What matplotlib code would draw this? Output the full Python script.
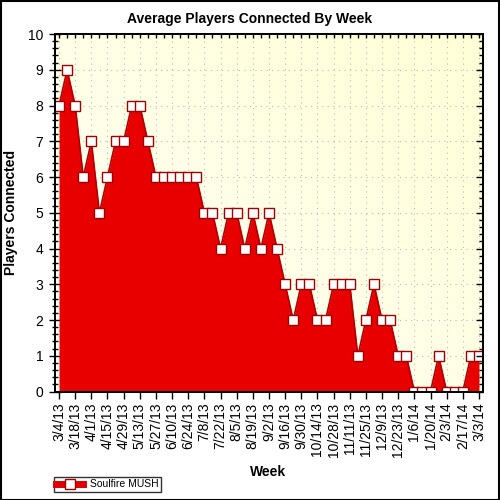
import matplotlib
matplotlib.use("Agg")
import matplotlib.pyplot as plt
import numpy as np
import datetime as dt
from matplotlib.ticker import MultipleLocator
from matplotlib.patches import Rectangle

plt.rcParams['font.family'] = ['Liberation Sans', 'DejaVu Sans']

# ---- data ----
start_date = dt.date(2013, 3, 4)
players = [8, 9, 8, 6, 7, 5, 6, 7, 7, 8,
           8, 7, 6, 6, 6, 6, 6, 6, 5, 5,
           4, 5, 5, 4, 5, 4, 5, 4, 3, 2,
           3, 3, 2, 2, 3, 3, 3, 1, 2, 3,
           2, 2, 1, 1, 0, 0, 0, 1, 0, 0,
           0, 1, 1]
weeks = [start_date + dt.timedelta(weeks=i) for i in range(len(players))]
week_labels = [f"{d.month}/{d.day}/{d.year % 100}" for d in weeks]
series_name = "Soulfire MUSH"

x = np.arange(len(players))

fig = plt.figure(figsize=(5, 5), dpi=100)
fig.patch.set_facecolor('white')
fig.add_artist(Rectangle((0.001, 0.001), 0.997, 0.997, transform=fig.transFigure,
                         fill=False, edgecolor='black', linewidth=1.5))

ax = fig.add_axes([0.11, 0.217, 0.856, 0.715])
ax.set_xlim(-0.5, len(players) - 0.5)
ax.set_ylim(0, 10)

# gradient background
grad = np.zeros((50, 50, 3))
gx, gy = np.meshgrid(np.linspace(0, 1, 50), np.linspace(0, 1, 50))
t = (gx + gy) / 2.0
c0 = np.array([1.0, 1.0, 0.97])
c1 = np.array([1.0, 1.0, 0.84])
for k in range(3):
    grad[:, :, k] = c0[k] + (c1[k] - c0[k]) * t
ax.imshow(grad, extent=[-0.5, len(players) - 0.5, 0, 10], origin='lower',
          aspect='auto', zorder=0, interpolation='bilinear')

# grid
for gxv in x[::2]:
    ax.axvline(gxv, color='#bbbbbb', linestyle=(0, (1, 4)), linewidth=0.8, zorder=1)
for gyv in range(1, 10):
    ax.axhline(gyv, color='#bbbbbb', linestyle=(0, (1, 4)), linewidth=0.8, zorder=1)

ax.fill_between(x, 0, players, color='#e80000', zorder=2, linewidth=0)
ax.plot(x, players, color='#b00000', linewidth=1.2, zorder=3,
        marker='s', markersize=7, markerfacecolor='white',
        markeredgecolor='#a00000', markeredgewidth=1.0, label=series_name)

# ticks
ax.set_xticks(x[::2])
ax.set_xticklabels(week_labels[::2], rotation=90, fontsize=10)
ax.tick_params(axis='x', direction='out', length=5, width=1, pad=3)
ax.yaxis.set_major_locator(MultipleLocator(1))
ax.yaxis.set_minor_locator(MultipleLocator(0.2))
ax.tick_params(axis='y', which='major', direction='inout', length=9, width=1, labelsize=10, pad=4)
ax.tick_params(axis='y', which='minor', direction='inout', length=5, width=1)

# top axis with weekly ticks
axt = ax.twiny()
axt.set_xlim(ax.get_xlim())
axt.set_xticks(x)
axt.set_xticklabels([])
axt.tick_params(axis='x', direction='in', length=3, width=1)
# right axis
axr = ax.twinx()
axr.set_ylim(0, 10)
axr.yaxis.set_major_locator(MultipleLocator(1))
axr.yaxis.set_minor_locator(MultipleLocator(0.2))
axr.set_yticklabels([])
axr.tick_params(axis='y', which='major', direction='in', length=5, width=1)
axr.tick_params(axis='y', which='minor', direction='in', length=3, width=1)

for a in (ax, axt, axr):
    for s in a.spines.values():
        s.set_linewidth(1.2)

fig.suptitle("Average Players Connected By Week", x=0.5, y=0.975,
             fontsize=10, fontweight='bold')
ax.set_ylabel("Players Connected", fontsize=10, fontweight='bold')
ax.yaxis.set_label_coords(-0.087, 0.5)
ax.set_xlabel("Week", fontsize=10, fontweight='bold')
ax.xaxis.set_label_coords(0.498, -0.205)

leg = ax.legend(loc='lower left', bbox_to_anchor=(0.108, 0.017),
                bbox_transform=fig.transFigure, fontsize=7.5, frameon=True,
                fancybox=False, borderpad=0.2, handlelength=2.6,
                handletextpad=0.7, borderaxespad=0)
leg.get_frame().set_edgecolor('black')
leg.get_frame().set_linewidth(1.0)
leg.get_lines()[0].set_linewidth(5)
leg.get_lines()[0].set_color('#e00000')

fig.savefig("out.png", dpi=100)
